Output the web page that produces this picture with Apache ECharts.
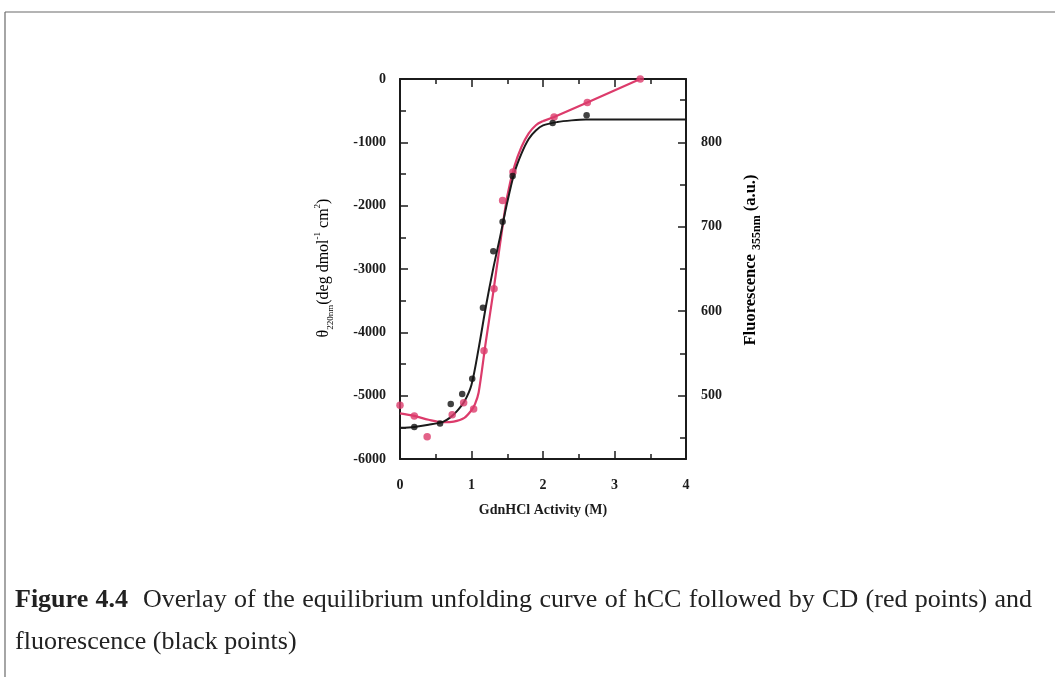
<!DOCTYPE html>
<html>
<head>
<meta charset="utf-8">
<script src="https://cdn.jsdelivr.net/npm/echarts@6/dist/echarts.min.js"></script>
<style>
  html, body { margin: 0; padding: 0; background: #ffffff; }
  #chart { width: 1055px; height: 677px; }
</style>
</head>
<body>
<div id="chart"></div>
<script>
// CD at 220 nm: measured points (GdnHCl activity in M, ellipticity)
const cdPointsX = [0.0, 0.2, 0.38, 0.73, 0.89, 1.03, 1.175, 1.315, 1.435, 1.58, 2.155, 2.62, 3.36];
const cdPointsY = [-5150, -5320, -5650, -5300, -5110, -5210, -4290, -3310, -1920, -1470, -600, -370, 0];
// CD fitted transition (joins the measured points from 2.155 M onwards)
const cdFitX = [0, 0.2, 0.4, 0.6, 0.75, 0.9, 1.0, 1.05, 1.1, 1.2, 1.3, 1.4, 1.5, 1.6, 1.7, 1.8, 1.9, 2.0];
const cdFitY = [-5280, -5320, -5380, -5420, -5410, -5350, -5230, -5130, -4950, -4150, -3400, -2600, -1850, -1380, -1070, -860, -730, -665];

// Fluorescence: measured points and fitted curve
const flPointsX = [0.2, 0.56, 0.71, 0.87, 1.01, 1.16, 1.305, 1.435, 1.575, 2.135, 2.61];
const flPointsY = [463, 467, 490, 502, 520, 604, 671, 706, 760, 823, 832];
const flFitX = [0, 0.2, 0.4, 0.6, 0.7, 0.8, 0.9, 1.0, 1.1, 1.2, 1.3, 1.4, 1.5, 1.6, 1.7, 1.8, 1.9, 2.0, 2.2, 2.4, 2.6, 3.0, 4.0];
const flFitY = [462, 463, 465.5, 469, 474, 482, 493, 513, 556, 605, 649, 688, 729, 764, 787, 804, 814, 820, 824, 826, 827, 827, 827];

// Axis ticks and labels
const activityLabels = [0, 1, 2, 3, 4];
const cdLabels = [0, -1000, -2000, -3000, -4000, -5000, -6000];
const flLabels = [500, 600, 700, 800];
const flMinorTicks = [450, 550, 650, 750, 850];

// Caption
const captionTitle = 'Figure 4.4';
const captionLine1 = 'Overlay of the equilibrium unfolding curve of hCC followed by CD (red points) and';
const captionLine2 = 'fluorescence (black points)';

const RED = '#dc3b6b';
const INK = '#1b1b1b';
const SERIF = '"Liberation Serif", "DejaVu Serif", serif';
const CAPTION_SIZE = 26;

const pairs = (xs, ys) => xs.map((x, i) => [x, ys[i]]);
const cdTailStart = cdPointsX.findIndex(x => x > cdFitX[cdFitX.length - 1]);
const cdCurve = pairs(cdFitX, cdFitY);
const cdTail = [cdCurve[cdCurve.length - 1]].concat(
  pairs(cdPointsX.slice(cdTailStart), cdPointsY.slice(cdTailStart)));

const tickLabel = { fontFamily: SERIF, fontWeight: 'bold', fontSize: 14, color: INK };
const axisLine = { show: true, onZero: false, lineStyle: { color: INK, width: 2 } };
const tickStyle = { color: INK, width: 1.5 };

// Justified first caption line: words spread between a left and right edge
function justifiedLine(words, boldCount, left, right, y, size) {
  const ctx = document.createElement('canvas').getContext('2d');
  const fontOf = b => (b ? 'bold ' : '') + size + 'px ' + SERIF;
  const widths = words.map((w, i) => { ctx.font = fontOf(i < boldCount); return ctx.measureText(w).width; });
  ctx.font = fontOf(false);
  const space = ctx.measureText(' ').width;
  const gaps = words.length - 1;
  const natural = widths.reduce((a, b) => a + b, 0) + gaps * space;
  const extra = (right - left - natural) / gaps;
  const out = [];
  let x = left;
  words.forEach((w, i) => {
    if (w) {
      out.push({
        type: 'text', x: x, y: y,
        style: {
          text: w, align: 'left', verticalAlign: 'middle',
          fontFamily: SERIF, fontSize: size, fontWeight: i < boldCount ? 'bold' : 'normal', fill: '#222222'
        }
      });
    }
    x += widths[i] + space + extra;
  });
  return out;
}

const line1Words = captionTitle.split(' ').concat(['']).concat(captionLine1.split(' '));

const chart = echarts.init(document.getElementById('chart'), null, { renderer: 'canvas' });

chart.setOption({
  backgroundColor: '#ffffff',
  animation: false,
  grid: { left: 400, top: 79, width: 286, height: 380, containLabel: false },
  xAxis: [
    {
      type: 'value', position: 'bottom', min: 0, max: 4, interval: 1,
      axisLine: axisLine,
      axisTick: { inside: true, length: 8, lineStyle: tickStyle },
      minorTick: { show: true, splitNumber: 2, length: 5, lineStyle: tickStyle },
      axisLabel: Object.assign({ margin: 19, customValues: activityLabels }, tickLabel),
      splitLine: { show: false }, minorSplitLine: { show: false }
    },
    {
      type: 'value', position: 'top', min: 0, max: 4, interval: 1,
      axisLine: axisLine,
      axisTick: { inside: true, length: 8, lineStyle: tickStyle },
      minorTick: { show: true, splitNumber: 2, length: 5, lineStyle: tickStyle },
      axisLabel: { show: false },
      splitLine: { show: false }, minorSplitLine: { show: false }
    }
  ],
  yAxis: [
    {
      type: 'value', position: 'left', min: -6000, max: 0, interval: 1000,
      axisLine: axisLine,
      axisTick: { inside: true, length: 8, lineStyle: tickStyle },
      minorTick: { show: true, splitNumber: 2, length: 6, lineStyle: tickStyle },
      axisLabel: Object.assign({ margin: 14, customValues: cdLabels, formatter: v => String(v) }, tickLabel),
      splitLine: { show: false }, minorSplitLine: { show: false }
    },
    {
      type: 'value', position: 'right', min: 425, max: 875,
      axisLine: axisLine,
      axisTick: { inside: true, length: 8, customValues: flLabels, lineStyle: tickStyle },
      axisLabel: Object.assign({ margin: 15, customValues: flLabels, formatter: v => String(v) }, tickLabel),
      splitLine: { show: false }
    },
    {
      type: 'value', position: 'right', min: 425, max: 875,
      axisLine: { show: false, onZero: false },
      axisTick: { inside: true, length: 6, customValues: flMinorTicks, lineStyle: tickStyle },
      axisLabel: { show: false },
      splitLine: { show: false }
    }
  ],
  series: [
    {
      name: 'CD fit', type: 'line', xAxisIndex: 0, yAxisIndex: 0,
      data: cdCurve, smooth: 0.3, showSymbol: false, symbol: 'none',
      lineStyle: { color: RED, width: 2.2 }, z: 2
    },
    {
      name: 'CD tail', type: 'line', xAxisIndex: 0, yAxisIndex: 0,
      data: cdTail, smooth: false, showSymbol: false, symbol: 'none',
      lineStyle: { color: RED, width: 2.2 }, z: 2
    },
    {
      name: 'Fluorescence fit', type: 'line', xAxisIndex: 0, yAxisIndex: 1,
      data: pairs(flFitX, flFitY), smooth: 0.3, showSymbol: false, symbol: 'none',
      lineStyle: { color: INK, width: 2 }, z: 3
    },
    {
      name: 'CD', type: 'scatter', xAxisIndex: 0, yAxisIndex: 0,
      data: pairs(cdPointsX, cdPointsY), symbol: 'circle', symbolSize: 7.5,
      itemStyle: { color: RED }, clip: false, z: 4
    },
    {
      name: 'Fluorescence', type: 'scatter', xAxisIndex: 0, yAxisIndex: 1,
      data: pairs(flPointsX, flPointsY), symbol: 'circle', symbolSize: 6.5,
      itemStyle: { color: '#111111' }, clip: false, z: 5
    }
  ],
  graphic: [
    // page frame
    { type: 'line', shape: { x1: 5, y1: 12, x2: 1055, y2: 12 }, style: { stroke: '#6a6a6a', lineWidth: 1.2 } },
    { type: 'line', shape: { x1: 5, y1: 12, x2: 5, y2: 677 }, style: { stroke: '#6a6a6a', lineWidth: 1.2 } },
    // left axis title
    {
      type: 'text', x: 324, y: 268, rotation: Math.PI / 2,
      style: {
        text: '{t|\u03b8}{s|220nm}{t|(deg dmol}{p|-1}{t| cm}{p|2}{t|)}',
        align: 'center', verticalAlign: 'middle',
        rich: {
          t: { fontFamily: SERIF, fontSize: 16, color: INK, lineHeight: 22 },
          s: { fontFamily: SERIF, fontSize: 9, color: INK, verticalAlign: 'bottom', lineHeight: 22 },
          p: { fontFamily: SERIF, fontSize: 9, color: INK, verticalAlign: 'top', lineHeight: 22 }
        }
      }
    },
    // right axis title
    {
      type: 'text', x: 751, y: 260, rotation: Math.PI / 2,
      style: {
        text: '{t|Fluorescence }{s|355nm}{t| (a.u.)}',
        align: 'center', verticalAlign: 'middle',
        rich: {
          t: { fontFamily: SERIF, fontSize: 16.5, fontWeight: 'bold', color: '#6b6b6b', lineHeight: 22 },
          s: { fontFamily: SERIF, fontSize: 12, fontWeight: 'bold', color: '#6b6b6b', verticalAlign: 'bottom', lineHeight: 24 }
        }
      }
    },
    // x axis title
    {
      type: 'text', x: 543, y: 510,
      style: {
        text: 'GdnHCl Activity (M)', align: 'center', verticalAlign: 'middle',
        fontFamily: SERIF, fontSize: 14, fontWeight: 'bold', fill: INK
      }
    },
    // caption, second line
    {
      type: 'text', x: 15, y: 642,
      style: {
        text: captionLine2, align: 'left', verticalAlign: 'middle',
        fontFamily: SERIF, fontSize: CAPTION_SIZE, fill: '#222222'
      }
    }
  ].concat(justifiedLine(line1Words, 2, 15, 1032, 600, CAPTION_SIZE))
});
</script>
</body>
</html>
